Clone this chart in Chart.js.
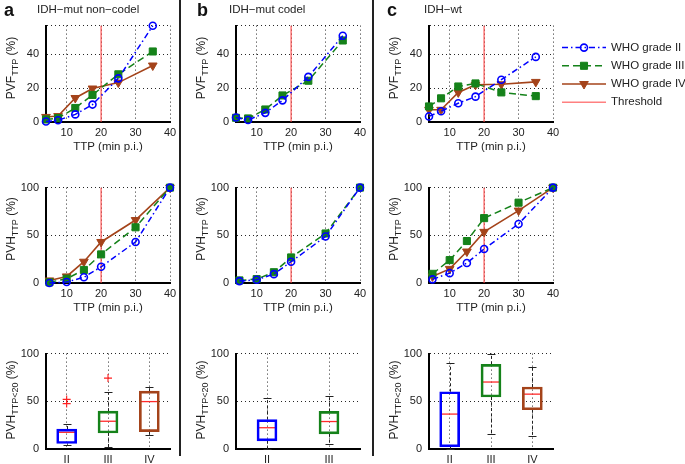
<!DOCTYPE html>
<html>
<head>
<meta charset="utf-8">
<script src="https://cdn.jsdelivr.net/npm/chart.js@4/dist/chart.umd.min.js"></script>
<style>
  html, body { margin:0; padding:0; background:#fff; }
  #wrap { position:relative; width:685px; height:464px; overflow:hidden; background:#fff;
          font-family:"Liberation Sans", Arial, Helvetica, sans-serif; color:#222; }
  .abs { position:absolute; white-space:nowrap; }
  .letter { font-weight:bold; font-size:18px; color:#111; }
  .ptitle { font-size:11.5px; }
  .ytitle { font-size:12px; transform:translate(-50%,-50%) rotate(-90deg); }
  .ytitle .sb { font-size:9px; position:relative; top:3px; }
  .sep { background:#222; width:2px; }
</style>
</head>
<body>
<div id="wrap"></div>
<script>
// ---------------- DATA ----------------
const ttpMid = [4, 7.5, 12.5, 17.5, 25, 35];      // PVF bins (min p.i.)
const ttpCum = [5, 10, 15, 20, 30, 40];           // PVH cumulative TTP
const threshold = 20;
const ttpTicks = [10, 20, 30, 40];
const pvfTicks = [0, 20, 40];
const pvhTicks = [0, 50, 100];
const boxTicks = [0, 50, 100];
const gradeNames = ['WHO grade II', 'WHO grade III', 'WHO grade IV'];
const gradeShort = ['II', 'III', 'IV'];
const panelTitles = ['IDH\u2212mut non\u2212codel', 'IDH\u2212mut codel', 'IDH\u2212wt'];

// PVF_TTP (%)
const pvfA_II  = [0.3, 1.0, 4.5, 10.3, 25.8, 56.9];
const pvfA_III = [1.5, 2.3, 8.3, 16.0, 28.2, 41.7];
const pvfA_IV  = [3.0, 3.5, 14.2, 19.8, 23.3, 33.4];
const pvfB_II  = [2.7, 1.2, 5.4, 12.8, 26.7, 51.0];
const pvfB_III = [2.5, 2.1, 7.4, 15.7, 24.4, 48.2];
const pvfC_II  = [3.3, 6.4, 11.1, 15.0, 25.0, 38.5];
const pvfC_III = [9.2, 14.0, 21.0, 22.8, 17.5, 15.3];
const pvfC_IV  = [7.2, 7.2, 17.5, 22.0, 22.3, 23.7];

// PVH_TTP (%)
const pvhA_II  = [0.0, 1.0, 6.0, 17.0, 43.0, 100];
const pvhA_III = [0.7, 4.5, 13.7, 30.0, 58.4, 100];
const pvhA_IV  = [2.7, 6.9, 22.3, 43.0, 66.0, 100];
const pvhB_II  = [2.0, 3.4, 9.3, 22.3, 48.8, 100];
const pvhB_III = [2.7, 4.1, 11.3, 26.8, 51.9, 100];
const pvhC_II  = [3.8, 10.3, 21.0, 35.7, 61.9, 100];
const pvhC_III = [9.6, 24.0, 44.0, 68.0, 84.2, 100];
const pvhC_IV  = [6.9, 14.8, 33.0, 53.6, 75.9, 100];

// PVH_TTP<20 box stats: [lower whisker, q1, median, q3, upper whisker]
const boxA_II  = [4.5, 5.8, 17.5, 20.9, 26.4];
const boxA_III = [2.0, 16.8, 29.1, 39.7, 59.6];
const boxA_IV  = [15.1, 18.2, 49.7, 60.6, 65.4];
const boxB_II  = [0.0, 8.6, 22.3, 30.8, 53.4];
const boxB_III = [5.1, 15.8, 28.8, 39.4, 55.1];
const boxC_II  = [0.0, 2.4, 36.6, 60.0, 89.7];
const boxC_III = [16.1, 54.5, 70.2, 88.7, 100];
const boxC_IV  = [14.0, 41.1, 57.5, 65.0, 85.6];
const outA_II  = [47.6, 52.0];
const outA_III = [74.3];

// ---------------- STYLE / LAYOUT ----------------
const TXT = '#222';
const FONT = '"Liberation Sans", Arial, Helvetica, sans-serif';
const C = { II:'#0000ff', III:'#15821a', IV:'#a4431a', thr:'rgba(255,60,60,0.65)' };
const COLS = [{l:46, r:170}, {l:236, r:360}, {l:429, r:553}];
const ROWS = [{t:24, b:122}, {t:186, b:283}, {t:352, b:449}];
const YW = 46, PT = 12, PR = 14;

Chart.defaults.font.family = FONT;
Chart.defaults.font.size = 11;
Chart.defaults.color = TXT;

const wrap = document.getElementById('wrap');

function makeCanvas(left, top, w, h) {
  const c = document.createElement('canvas');
  c.width = w; c.height = h;
  c.style.cssText = `position:absolute;left:${left}px;top:${top}px;width:${w}px;height:${h}px`;
  wrap.appendChild(c);
  return c;
}
function addText(cls, html, left, top) {
  const d = document.createElement('div');
  d.className = 'abs ' + cls;
  d.innerHTML = html;
  d.style.left = left + 'px'; d.style.top = top + 'px';
  wrap.appendChild(d);
  return d;
}
const pts = (xs, ys) => xs.map((x, i) => ({x, y: ys[i]}));

function seriesStyle(g) {
  if (g === 'II') return {borderColor:C.II, borderWidth:1.5, borderDash:[6,3,1.5,3], pointStyle:'circle',
    pointRadius:3.5, pointBackgroundColor:'rgba(255,255,255,0)', pointBorderColor:C.II, pointBorderWidth:1.6};
  if (g === 'III') return {borderColor:C.III, borderWidth:1.5, borderDash:[7,4], pointStyle:'rect',
    pointRadius:5, pointBackgroundColor:C.III, pointBorderColor:C.III, pointBorderWidth:1};
  return {borderColor:C.IV, borderWidth:1.6, borderDash:[], pointStyle:'triangle', pointRotation:180,
    pointRadius:5, pointBackgroundColor:C.IV, pointBorderColor:C.IV, pointBorderWidth:1};
}

function axisCommon() {
  return {
    grid: { color:'rgba(0,0,0,0.85)', lineWidth:1, drawTicks:false },
    border: { display:true, color:'#000', width:2, dash:[1,3] },
  };
}

const legendPlugin = {
  id:'sideLegend',
  afterDraw(chart) {
    const {ctx, chartArea} = chart;
    const x0 = chartArea.right + 9, x1 = x0 + 44, tx = x1 + 5;
    chart.data.datasets.forEach((ds, i) => {
      const yy = chartArea.top + 22 + i * 18.2;
      ctx.save();
      ctx.strokeStyle = ds.borderColor; ctx.lineWidth = ds.borderWidth;
      ctx.setLineDash(ds.borderDash || []);
      ctx.beginPath(); ctx.moveTo(x0, yy); ctx.lineTo(x1, yy); ctx.stroke();
      ctx.setLineDash([]);
      if (ds.pointRadius > 0) {
        ctx.fillStyle = ds.pointBackgroundColor; ctx.strokeStyle = ds.pointBorderColor;
        ctx.lineWidth = ds.pointBorderWidth;
        Chart.helpers.drawPoint(ctx, {pointStyle:ds.pointStyle, rotation:ds.pointRotation || 0,
          radius:ds.pointRadius, borderWidth:ds.pointBorderWidth}, (x0 + x1) / 2, yy);
      }
      ctx.fillStyle = TXT; ctx.font = '11.5px ' + FONT; ctx.textBaseline = 'middle'; ctx.textAlign = 'left';
      ctx.fillText(ds.label, tx, yy);
      ctx.restore();
    });
  }
};

function lineChart(col, row, xs, series, yMax, yTicks, withLegend) {
  const P = COLS[col], R = ROWS[row];
  const XH = 32;
  const pr = withLegend ? (685 - P.r) : PR;
  const w = P.r - P.l + YW + pr, h = R.b - R.t + PT + XH;
  const cv = makeCanvas(P.l - YW, R.t - PT, w, h);
  const datasets = series.map(s => Object.assign({label: gradeNames[gradeShort.indexOf(s.g)],
    data: pts(xs, s.v), showLine:true, fill:false, tension:0, clip:false}, seriesStyle(s.g)));
  datasets.push({label:'Threshold', data:[{x:threshold, y:0}, {x:threshold, y:yMax}], showLine:true,
    borderColor:C.thr, borderWidth:1.6, borderDash:[], pointRadius:0});
  const xMin = 4, xMax = 40;
  new Chart(cv, {
    type:'scatter',
    data:{ datasets },
    options:{
      responsive:false, animation:false, devicePixelRatio:1,
      layout:{ padding:{left:0, top:PT, right:pr, bottom:0} },
      plugins:{ legend:{display:false}, tooltip:{enabled:false} },
      scales:{
        x: Object.assign(axisCommon(), {
          type:'linear', min:xMin, max:xMax,
          afterBuildTicks: s => { s.ticks = [xMin, ...ttpTicks].map(v => ({value:v})); },
          ticks:{ callback: v => ttpTicks.includes(v) ? String(v) : '', padding:4, maxRotation:0, autoSkip:false, font:{size:11} },
          title:{ display:true, text:'TTP (min p.i.)', font:{size:11.5}, padding:0 },
          afterFit: s => { s.height = XH; }
        }),
        y: Object.assign(axisCommon(), {
          type:'linear', min:0, max:yMax,
          afterBuildTicks: s => { const t = yTicks.slice(); if (!t.includes(yMax)) t.push(yMax); s.ticks = t.map(v => ({value:v})); },
          ticks:{ callback: v => yTicks.includes(v) ? String(v) : '', padding:7, autoSkip:false, font:{size:11} },
          afterFit: s => { s.width = YW; }
        })
      }
    },
    plugins: withLegend ? [legendPlugin] : []
  });
}

function makeWhiskers(stats) {
  return {
    id:'whiskers',
    beforeDatasetsDraw(chart) {
      const {ctx, scales:{x, y}} = chart;
      ctx.save();
      ctx.strokeStyle = '#222'; ctx.lineWidth = 1;
      stats.forEach((s, i) => {
        const px = Math.round(x.getPixelForValue(i)) + 0.5;
        ctx.setLineDash([3, 2.5]);
        ctx.beginPath();
        ctx.moveTo(px, y.getPixelForValue(s[3])); ctx.lineTo(px, y.getPixelForValue(s[4]));
        ctx.moveTo(px, y.getPixelForValue(s[1])); ctx.lineTo(px, y.getPixelForValue(s[0]));
        ctx.stroke();
        ctx.setLineDash([]);
        ctx.beginPath();
        [s[0], s[4]].forEach(v => { const py = Math.round(y.getPixelForValue(v)) + 0.5;
          ctx.moveTo(px - 4, py); ctx.lineTo(px + 4, py); });
        ctx.stroke();
      });
      ctx.restore();
    }
  };
}

function boxChart(col, row, cats, stats, outliers) {
  const P = COLS[col], R = ROWS[row];
  const XH = 16;
  const w = P.r - P.l + YW + PR, h = R.b - R.t + PT + XH;
  const cv = makeCanvas(P.l - YW, R.t - PT, w, h);
  const outPts = [];
  outliers.forEach((arr, i) => (arr || []).forEach(v => outPts.push({x:cats[i], y:v})));
  new Chart(cv, {
    type:'bar',
    data:{
      labels: cats,
      datasets:[
        { type:'bar', data: stats.map(s => [s[1], s[3]]), backgroundColor:'rgba(0,0,0,0)',
          borderColor: cats.map(c => C[c]), borderWidth:2, borderSkipped:false, barThickness:20, clip:false },
        { type:'line', data: stats.map(s => s[2]), showLine:false, pointStyle:'line', pointRadius:8.5,
          pointBorderColor:'#ff2a2a', pointBorderWidth:1.3, pointBackgroundColor:'#ff2a2a', clip:false },
        { type:'line', data: outPts, showLine:false, pointStyle:'cross', pointRadius:4,
          pointBorderColor:'#ff2020', pointBorderWidth:1.1, clip:false }
      ]
    },
    options:{
      responsive:false, animation:false, devicePixelRatio:1,
      layout:{ padding:{left:0, top:PT, right:PR, bottom:0} },
      plugins:{ legend:{display:false}, tooltip:{enabled:false} },
      scales:{
        x: Object.assign(axisCommon(), {
          type:'category', offset:true,
          grid:{ color:'rgba(0,0,0,0.85)', lineWidth:1, drawTicks:false, offset:false },
          ticks:{ padding:4, font:{size:11} },
          afterFit: s => { s.height = XH; }
        }),
        y: Object.assign(axisCommon(), {
          type:'linear', min:0, max:100,
          afterBuildTicks: s => { s.ticks = boxTicks.map(v => ({value:v})); },
          ticks:{ padding:7, font:{size:11} },
          afterFit: s => { s.width = YW; }
        })
      }
    },
    plugins:[ makeWhiskers(stats) ]
  });
}

// ---------------- BUILD ----------------
// panel a
lineChart(0, 0, ttpMid, [{g:'II', v:pvfA_II}, {g:'III', v:pvfA_III}, {g:'IV', v:pvfA_IV}], 57, pvfTicks, false);
lineChart(0, 1, ttpCum, [{g:'II', v:pvhA_II}, {g:'III', v:pvhA_III}, {g:'IV', v:pvhA_IV}], 100, pvhTicks, false);
boxChart(0, 2, ['II', 'III', 'IV'], [boxA_II, boxA_III, boxA_IV], [outA_II, outA_III, []]);
// panel b
lineChart(1, 0, ttpMid, [{g:'II', v:pvfB_II}, {g:'III', v:pvfB_III}], 57, pvfTicks, false);
lineChart(1, 1, ttpCum, [{g:'II', v:pvhB_II}, {g:'III', v:pvhB_III}], 100, pvhTicks, false);
boxChart(1, 2, ['II', 'III'], [boxB_II, boxB_III], [[], []]);
// panel c
lineChart(2, 0, ttpMid, [{g:'II', v:pvfC_II}, {g:'III', v:pvfC_III}, {g:'IV', v:pvfC_IV}], 57, pvfTicks, true);
lineChart(2, 1, ttpCum, [{g:'II', v:pvhC_II}, {g:'III', v:pvhC_III}, {g:'IV', v:pvhC_IV}], 100, pvhTicks, false);
boxChart(2, 2, ['II', 'III', 'IV'], [boxC_II, boxC_III, boxC_IV], [[], [], []]);

// separators, panel letters, titles, y-axis titles
const s1 = addText('sep', '', 179, 0); s1.style.height = '456px';
const s2 = addText('sep', '', 372, 0); s2.style.height = '456px';
addText('letter', 'a', 4, 0);
addText('letter', 'b', 197, 0);
addText('letter', 'c', 387, 0);
addText('ptitle', panelTitles[0], 37, 3);
addText('ptitle', panelTitles[1], 229, 3);
addText('ptitle', panelTitles[2], 424, 3);
const yTitleTop = 'PVF<span class="sb">TTP</span> (%)';
const yTitleMid = 'PVH<span class="sb">TTP</span> (%)';
const yTitleBot = 'PVH<span class="sb">TTP&lt;20</span> (%)';
[[0, 11], [1, 201], [2, 394]].forEach(([c, x]) => {
  addText('ytitle', yTitleTop, x, 68);
  addText('ytitle', yTitleMid, x, 229);
  addText('ytitle', yTitleBot, x, 400);
});
</script>
</body>
</html>
